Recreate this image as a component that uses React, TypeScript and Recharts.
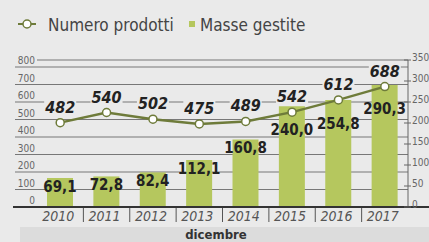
import React from 'react';
import { ComposedChart, Bar, Line, XAxis, YAxis, CartesianGrid, LabelList } from 'recharts';

const years = ['2010', '2011', '2012', '2013', '2014', '2015', '2016', '2017'];
const numeroProdotti = [482, 540, 502, 475, 489, 542, 612, 688];
const masseGestite = [69.1, 72.8, 82.4, 112.1, 160.8, 240.0, 254.8, 290.3];
const leftTicks = [0, 100, 200, 300, 400, 500, 600, 700, 800];
const rightTicks = [0, 50, 100, 150, 200, 250, 300, 350];

const data = years.map((y, i) => ({ year: y, prodotti: numeroProdotti[i], masse: masseGestite[i] }));

const BG = '#eaeaea';
const BAND = '#dcdcdc';
const GREEN = '#b5c75e';
const OLIVE = '#6e7b3a';
const FONT = "'DejaVu Sans Condensed', 'Liberation Sans Narrow', sans-serif";

const W = 429;
const H = 242;
const M = { top: 60, right: 0, bottom: 0, left: 15 };
const LEFT_W = 22;
const RIGHT_W = 21;
const X_H = 35;
const PLOT_L = M.left + LEFT_W;
const PLOT_R = W - RIGHT_W;
const BANDW = (PLOT_R - PLOT_L) / years.length;

const LeftTick = (props: any) => {
  const { y, payload } = props;
  const v = payload.value;
  return (
    <g>
      {v === 0 ? (
        <line x1={13} x2={429} y1={y} y2={y} stroke="#333" strokeWidth={2} />
      ) : (
        <line x1={15} x2={PLOT_L} y1={y} y2={y} stroke="#777" strokeWidth={1} />
      )}
      <text x={35} y={y - 3} textAnchor="end" fontSize={10} fill="#666" fontFamily={FONT}>
        {v}
      </text>
    </g>
  );
};

const RightTick = (props: any) => {
  const { y, payload } = props;
  return (
    <g>
      <line x1={PLOT_R - 4} x2={PLOT_R + 3} y1={y} y2={y} stroke="#666" strokeWidth={1} />
      <text x={PLOT_R + 4} y={y + 1} fontSize={10} fill="#666" fontFamily={FONT}>
        {payload.value}
      </text>
    </g>
  );
};

const XTick = (props: any) => {
  const { x, payload } = props;
  const first = payload.value === years[0];
  return (
    <g>
      {!first && (
        <line x1={x - BANDW / 2} x2={x - BANDW / 2} y1={208} y2={222} stroke="#555" strokeWidth={1} />
      )}
      <text x={x - 2} y={221} textAnchor="middle" fontSize={14} fontStyle="italic" fill="#555" fontFamily={FONT}>
        {payload.value}
      </text>
    </g>
  );
};

const LineLabel = (props: any) => {
  const { x, y, value } = props;
  return (
    <g>
      <rect x={x - 16} y={y - 24} width={32} height={16} fill={BG} />
      <text x={x} y={y - 10} textAnchor="middle" fontSize={16} fontWeight="bold" fontStyle="italic" fill="#222" fontFamily={FONT}>
        {value}
      </text>
    </g>
  );
};

const BarLabel = (props: any) => {
  const { x, y, width, value, index } = props;
  const dy = index >= 5 ? 23 : 8;
  return (
    <text x={x + width / 2} y={y + dy + 6} textAnchor="middle" fontSize={15} fontWeight="bold" fill="#222" fontFamily={FONT}>
      {Number(value).toFixed(1).replace('.', ',')}
    </text>
  );
};

export default function App() {
  return (
    <div style={{ position: 'absolute', left: 0, top: 0, width: W, height: H, background: BG, overflow: 'hidden' }}>
      <svg width={W} height={H} style={{ position: 'absolute', left: 0, top: 0 }}>
        <line x1={18} x2={36} y1={24} y2={24} stroke={OLIVE} strokeWidth={2} />
        <circle cx={27} cy={24} r={4} fill="#fff" stroke={OLIVE} strokeWidth={1.5} />
        <text x={48} y={31} fontSize={17} fill="#444" fontFamily={FONT}>Numero prodotti</text>
        <rect x={189} y={21} width={6} height={6} fill={GREEN} />
        <text x={200} y={31} fontSize={17} fill="#444" fontFamily={FONT}>Masse gestite</text>
        <rect x={20} y={227} width={409} height={15} fill={BAND} />
        <text x={216} y={239} textAnchor="middle" fontSize={13} fontWeight="bold" fill="#333" fontFamily={FONT}>dicembre</text>
      </svg>
      <div style={{ position: 'absolute', left: 0, top: 0 }}>
        <ComposedChart width={W} height={H} data={data} margin={M}>
          <CartesianGrid yAxisId="left" vertical={false} stroke="#777" strokeWidth={1} />
          <XAxis dataKey="year" axisLine={false} tickLine={false} tick={<XTick />} interval={0} height={X_H} />
          <YAxis
            yAxisId="left"
            orientation="left"
            width={LEFT_W}
            domain={[0, 840]}
            ticks={leftTicks}
            axisLine={false}
            tickLine={false}
            tick={<LeftTick />}
            interval={0}
          />
          <YAxis
            yAxisId="right"
            orientation="right"
            width={RIGHT_W}
            domain={[0, 350]}
            ticks={rightTicks}
            axisLine={{ stroke: '#666', strokeWidth: 1 }}
            tickLine={false}
            tick={<RightTick />}
            interval={0}
          />
          <Bar yAxisId="right" dataKey="masse" fill={GREEN} barSize={26} isAnimationActive={false}>
            <LabelList dataKey="masse" content={<BarLabel />} />
          </Bar>
          <Line
            yAxisId="left"
            dataKey="prodotti"
            stroke={OLIVE}
            strokeWidth={2.5}
            dot={{ r: 4, fill: '#fff', stroke: OLIVE, strokeWidth: 1.5 }}
            isAnimationActive={false}
          >
            <LabelList dataKey="prodotti" content={<LineLabel />} />
          </Line>
        </ComposedChart>
      </div>
    </div>
  );
}
